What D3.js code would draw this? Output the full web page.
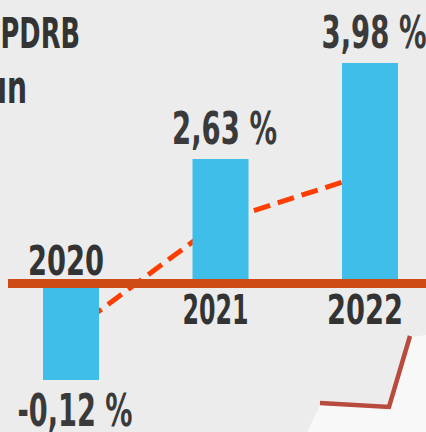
<!DOCTYPE html>
<html><head><meta charset="utf-8">
<script src="https://cdn.jsdelivr.net/npm/d3@7"></script>
<style>html,body{margin:0;padding:0;background:#ececec;overflow:hidden}</style>
</head><body>
<svg id="c" width="426" height="432"></svg>
<script>
// ---- data ----
const years = ["2020", "2021", "2022"];
const growth = [-0.12, 2.63, 3.98];
const valueLabels = ["-0,12 %", "2,63 %", "3,98 %"];
const titleLines = ["Laju Pertumbuhan PDRB", "Tahun"];

const W = 426, H = 432;
const svg = d3.select("#c");
svg.append("rect").attr("width", W).attr("height", H).attr("fill", "#ececec");

// x: category centres
const x = d3.scalePoint().domain(years).range([71, 370]);
const barW = 56;
// y: infographic (not-to-scale) polylinear scale
const y = d3.scaleLinear().domain([-0.12, 0, 2.63, 3.98]).range([380, 283.5, 159, 63]);

const data = years.map((yr, i) => ({yr, v: growth[i], label: valueLabels[i]}));

// title (partly cut off at the left edge), condensed handwriting-like
const tf = "'DejaVu Sans Condensed', 'DejaVu Sans', sans-serif";
const tg = svg.append("g").attr("transform", "scale(0.68,1)");
tg.append("text").attr("x", 80 / 0.68).attr("y", 48).attr("text-anchor", "end")
  .attr("font-family", tf).attr("font-weight", "bold").attr("font-size", 42)
  .attr("fill", "#333").text(titleLines[0]);
tg.append("text").attr("x", 27 / 0.68).attr("y", 103).attr("text-anchor", "end")
  .attr("font-family", tf).attr("font-weight", "bold").attr("font-size", 46)
  .attr("fill", "#333").text(titleLines[1]);

// dashed trend line (behind bars), at half the bar height
const line = d3.line().x(d => x(d.yr)).y(d => (y(d.v) + y(0)) / 2);
svg.append("path").datum(data).attr("d", line)
  .attr("fill", "none").attr("stroke", "#ff3d00").attr("stroke-width", 5)
  .attr("stroke-dasharray", "17 8").attr("stroke-dashoffset", 4);

// bars
svg.selectAll("rect.bar").data(data).join("rect").attr("class", "bar")
  .attr("x", d => x(d.yr) - barW / 2)
  .attr("width", barW)
  .attr("y", d => Math.min(y(d.v), y(0)))
  .attr("height", d => Math.abs(y(d.v) - y(0)))
  .attr("fill", "#3ebee8");

// baseline
svg.append("rect").attr("x", 8).attr("width", W - 8)
  .attr("y", y(0) - 4.5).attr("height", 9).attr("fill", "#cf4b16");

// year labels
svg.selectAll("text.yr").data(data).join("text").attr("class", "yr")
  .attr("x", d => x(d.yr) - 5)
  .attr("y", d => d.v < 0 ? y(0) - 8.5 : y(0) + 40)
  .attr("text-anchor", "middle")
  .attr("font-family", tf).attr("font-weight", "bold").attr("font-size", 40)
  .attr("fill", "#333")
  .attr("textLength", d => d.yr.endsWith("1") ? 66 : 76)
  .attr("lengthAdjust", "spacingAndGlyphs")
  .text(d => d.yr);

// value labels
const vf = "'DejaVu Sans Condensed', 'Liberation Sans', sans-serif";
svg.selectAll("text.val").data(data).join("text").attr("class", "val")
  .attr("x", d => x(d.yr) + 4)
  .attr("y", d => d.v < 0 ? y(d.v) + 46 : y(d.v) - 15)
  .attr("text-anchor", "middle")
  .attr("font-family", vf).attr("font-weight", "bold").attr("font-size", 45)
  .attr("fill", "#3a3a3a")
  .attr("textLength", d => 17.5 * d.label.length - (d.v < 0 ? 7.5 : 0))
  .attr("lengthAdjust", "spacingAndGlyphs")
  .text(d => d.label);

// decorative corner (paper with red edge)
svg.append("polygon")
  .attr("points", "307,432 320,405 389,409 411,337 426,335 426,432")
  .attr("fill", "#f8f8f8");
svg.append("polyline")
  .attr("points", "320,403 389,407 410,336")
  .attr("fill", "none").attr("stroke", "#b84a3e").attr("stroke-width", 4.5)
  .attr("stroke-linejoin", "miter");
</script>
</body></html>
